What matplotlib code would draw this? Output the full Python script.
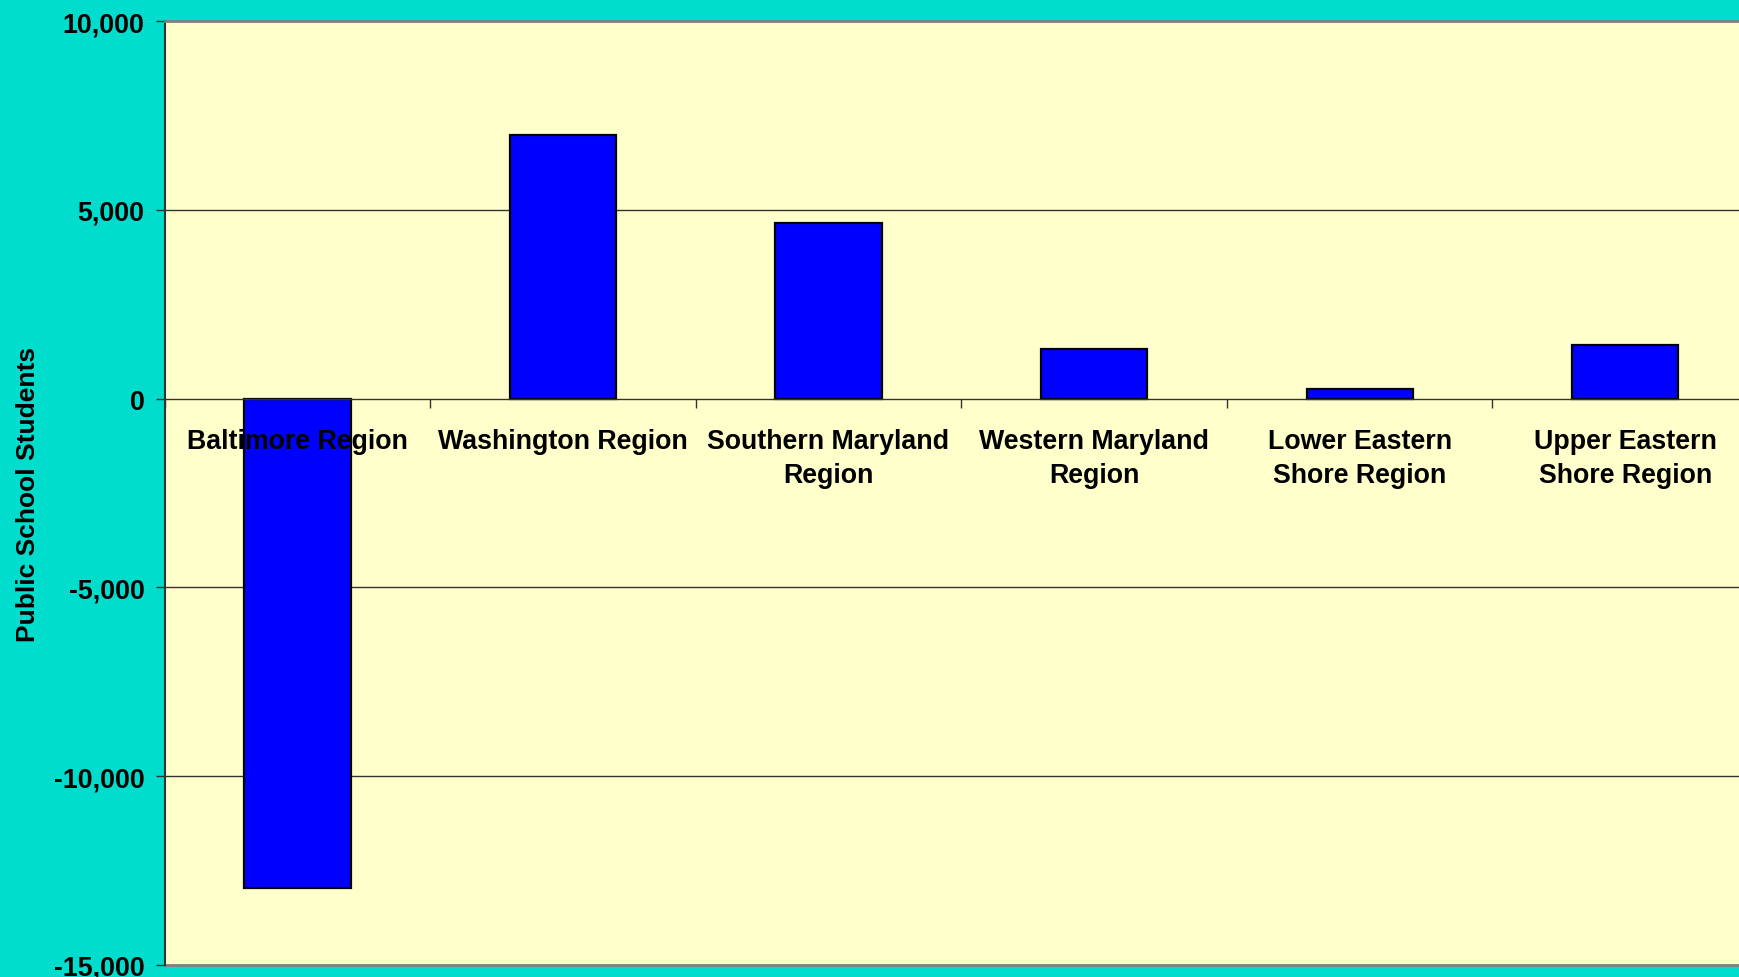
import matplotlib
matplotlib.use("Agg")
import matplotlib.pyplot as plt
import numpy as np

plt.rcParams['font.family'] = ['Liberation Sans', 'DejaVu Sans']
plt.rcParams['font.weight'] = 'bold'

# change in public school students by region
regions = ["Baltimore Region", "Washington Region", "Southern Maryland\nRegion",
           "Western Maryland\nRegion", "Lower Eastern\nShore Region", "Upper Eastern\nShore Region"]
change = [-12970, 6990, 4665, 1317, 260, 1424]
yticks = [-15000, -10000, -5000, 0, 5000, 10000]

teal = '#00DDCC'
plot_bg = '#FFFFCC'

fig = plt.figure(figsize=(17.39, 9.78), dpi=100, facecolor=teal)
ax = fig.add_axes([0.0947, 0.01258, 0.9162, 0.9646], facecolor=plot_bg)

x = np.arange(len(regions))
ax.bar(x, change, width=0.4, color='#0000FF', edgecolor='black', linewidth=1.6, zorder=1)

ax.set_xlim(-0.5, len(regions) - 0.5)
ax.set_ylim(-15000, 10000)

# gridlines behind the bars
for yv in yticks:
    if yv not in (-15000, 0, 10000):
        ax.axhline(yv, color='#333333', linewidth=1.0, zorder=0.5)
ax.axhline(-15000, color='#808080', linewidth=2.0, zorder=0.5, clip_on=False)

ax.set_yticks(yticks)
ax.set_yticklabels([f"{v:,}" for v in yticks], fontsize=19.3, fontweight='bold')
ax.tick_params(axis='y', direction='out', length=6.5, width=1.0, color='#333333', pad=8)

# category axis sits at zero, with ticks between categories
ax.spines['bottom'].set_position(('data', 0))
ax.spines['bottom'].set_color('#333333')
ax.spines['bottom'].set_linewidth(1.0)
ax.spines['left'].set_color('#333333')
ax.spines['left'].set_linewidth(1.5)
ax.spines['top'].set_color('#808080')
ax.spines['top'].set_linewidth(2.0)
ax.spines['right'].set_visible(False)

ax.set_xticks(x)
ax.set_xticklabels(regions, fontsize=19.3, fontweight='bold', linespacing=1.4)
ax.set_xticks(np.arange(len(regions) + 1) - 0.5, minor=True)
ax.tick_params(axis='x', which='major', length=0, pad=21)
ax.tick_params(axis='x', which='minor', direction='out', length=6.5, width=1.0, color='#333333')

ax.set_ylabel("Public School Students", fontsize=19, fontweight='bold')
ax.yaxis.set_label_coords(-0.078, 0.5)

fig.savefig("out.png", dpi=100, facecolor=teal)
